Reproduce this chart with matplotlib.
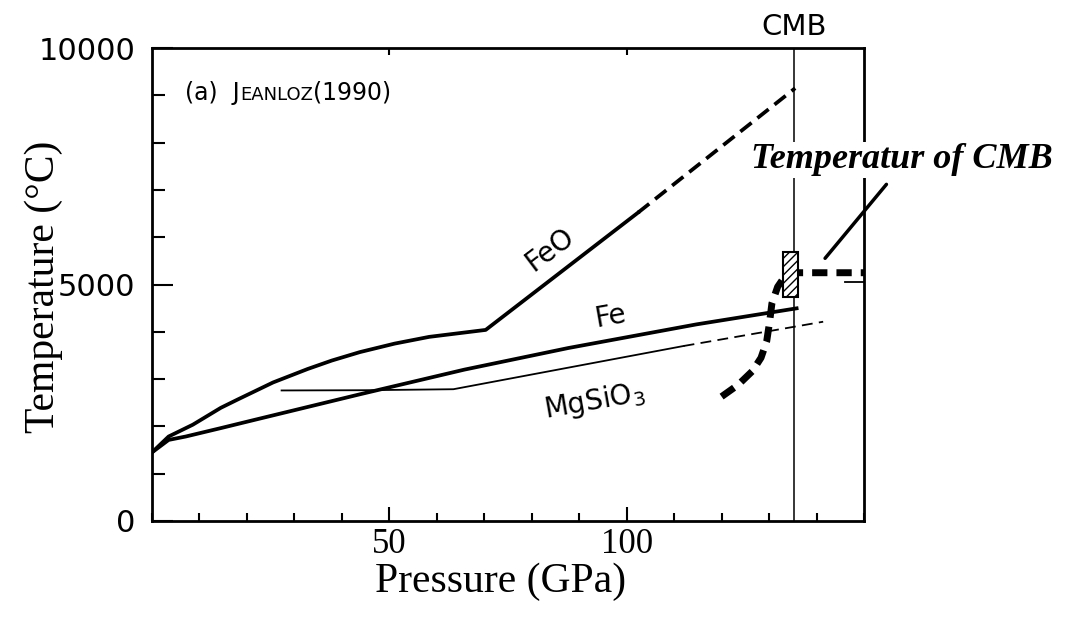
import matplotlib
matplotlib.use("Agg")
import matplotlib.pyplot as plt
from matplotlib.patches import Rectangle
from matplotlib.ticker import FixedLocator, MultipleLocator

# melting curves, pressure in GPa, temperature in deg C
feo_p = [0, 3.5, 8.6, 14.5, 18.1, 25.5, 32.8, 37.9, 43.8, 51.1, 58.4, 70.3, 102.4]
feo_t = [1450, 1786, 2036, 2393, 2571, 2929, 3214, 3393, 3571, 3750, 3893, 4040, 6520]
feo_ext_p = [102.4, 135.5]
feo_ext_t = [6520, 9150]

fe_p = [0, 3.5, 7.1, 14.5, 21.8, 43.8, 65.8, 87.7, 114.7, 135.8]
fe_t = [1450, 1714, 1786, 1964, 2143, 2679, 3200, 3657, 4157, 4496]

mgsio3_p = [27.3, 45, 63.5, 112.0]
mgsio3_t = [2760, 2765, 2786, 3700]
mgsio3_ext_p = [112.0, 141.4]
mgsio3_ext_t = [3700, 4213]

# geotherm bending up into the core-mantle boundary layer
geo_p = [120.0, 123.5, 126.5, 128.3, 129.5, 130.1, 130.6, 131.8, 133.5, 136.0, 150.0]
geo_t = [2630, 2880, 3170, 3450, 3800, 4200, 4600, 4950, 5200, 5249, 5249]
core_p = [146.0, 150.0]
core_t = [5060, 5060]

cmb_p = 135.3
cmb_box_p = (132.9, 136.1)
cmb_box_t = (4741, 5693)

serif = "Liberation Serif"
sans = "DejaVu Sans"

fig = plt.figure(figsize=(10.73, 6.2), dpi=100)
ax = fig.add_axes([152 / 1073, 99 / 620, 712 / 1073, 473 / 620])

ax.plot(feo_p, feo_t, color="black", lw=2.7, solid_joinstyle="round")
ax.plot(feo_ext_p, feo_ext_t, color="black", lw=2.7, dashes=(3.8, 2.0))
ax.plot(fe_p, fe_t, color="black", lw=2.7, solid_joinstyle="round")
ax.plot(mgsio3_p, mgsio3_t, color="black", lw=1.3)
ax.plot(mgsio3_ext_p, mgsio3_ext_t, color="black", lw=1.3, dashes=(6, 3.5))
ax.plot(geo_p, geo_t, color="black", lw=5, dashes=(2.2, 1.3), dash_capstyle="butt")
ax.plot(core_p, core_t, color="black", lw=1.3)
ax.axvline(cmb_p, color="black", lw=1.1)

box = Rectangle((cmb_box_p[0], cmb_box_t[0]), cmb_box_p[1] - cmb_box_p[0],
                cmb_box_t[1] - cmb_box_t[0], facecolor="white",
                edgecolor="black", hatch="////", lw=1.5, zorder=5)
ax.add_patch(box)

ax.set_xlim(0, 150)
ax.set_ylim(0, 10000)

ax.xaxis.set_major_locator(FixedLocator([50, 100]))
ax.xaxis.set_minor_locator(MultipleLocator(10))
ax.yaxis.set_major_locator(FixedLocator([0, 5000, 10000]))
ax.yaxis.set_minor_locator(MultipleLocator(1000))
ax.tick_params(axis="x", which="major", direction="in", length=10, width=1.5,
               pad=5, labelsize=25)
ax.tick_params(axis="x", which="minor", direction="in", length=6, width=1.5)
ax.tick_params(axis="y", which="major", direction="in", length=15, width=1.5,
               pad=12, labelsize=22)
ax.tick_params(axis="y", which="minor", direction="in", length=9, width=1.5)
for lab in ax.get_xticklabels():
    lab.set_fontfamily(serif)
for lab in ax.get_yticklabels():
    lab.set_fontfamily(sans)

top = ax.secondary_xaxis("top")
top.set_xticks([50, 100])
top.set_xticklabels([])
top.tick_params(direction="in", length=5, width=1.5)
top.spines["top"].set_visible(False)

for s in ax.spines.values():
    s.set_linewidth(2)

ax.set_xlabel("Pressure (GPa)", fontfamily=serif, fontsize=30)
ax.set_ylabel("Temperature (°C)", fontfamily=serif, fontsize=30)
ax.xaxis.set_label_coords(0.49, -0.088)
ax.yaxis.set_label_coords(-0.125, 0.495)

# curve labels
ax.text(83.8, 5729, "FeO", fontfamily=sans, fontsize=20, rotation=37,
        ha="center", va="center")
ax.text(96.5, 4319, "Fe", fontfamily=sans, fontsize=20, rotation=10,
        ha="center", va="center")
ax.text(93.1, 2520, r"MgSiO$_\mathregular{3}$", fontfamily=sans, fontsize=20,
        rotation=10, ha="center", va="center")

# panel tag with small-caps author name
t1 = ax.text(7.0, 9048, "(a)  J", fontfamily=sans, fontsize=17, va="center")
t2 = ax.annotate("EANLOZ", xy=(1, 0.22), xycoords=t1, fontfamily=sans,
                 fontsize=13, va="baseline")
ax.annotate("(1990)", xy=(1, 0), xycoords=t2, xytext=(0, -0.5),
            textcoords="offset points", fontfamily=sans, fontsize=17,
            va="bottom")

ax.text(cmb_p, 10150, "CMB", fontfamily=sans, fontsize=21, ha="center",
        va="bottom")

ax.annotate("Temperatur of CMB", xy=(141.8, 5554),
            xytext=(902 / 1073, 1 - 160 / 620), textcoords="figure fraction",
            ha="center", va="center",
            fontfamily=serif, fontsize=26, fontweight="bold", fontstyle="italic",
            bbox=dict(facecolor="white", edgecolor="none", pad=1),
            arrowprops=dict(arrowstyle="-", lw=2.5, color="black",
                            relpos=(0.47, 0), shrinkA=6, shrinkB=0),
            annotation_clip=False, zorder=6)

fig.savefig("out.png", dpi=100)
